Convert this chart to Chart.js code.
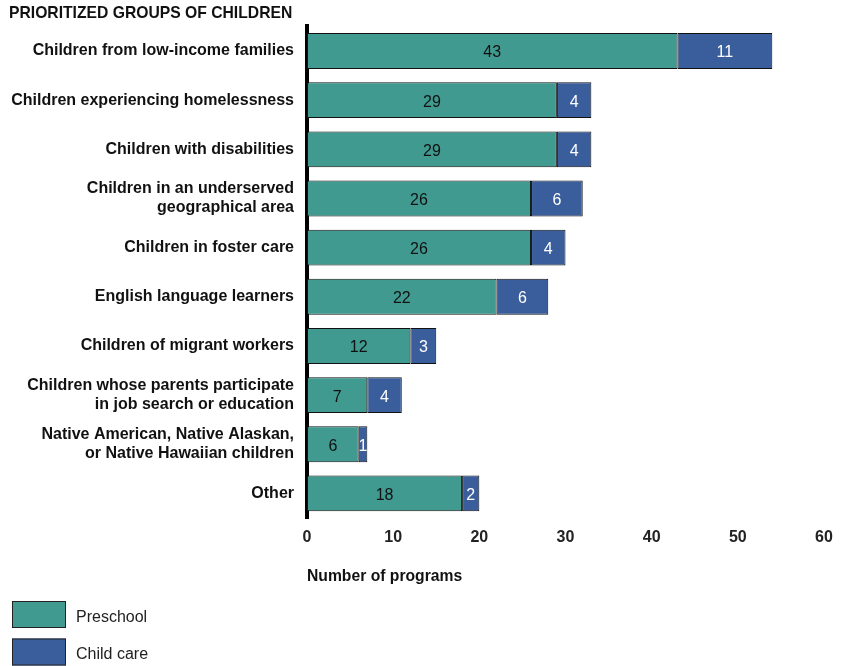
<!DOCTYPE html>
<html lang="en">
<head>
    <meta charset="UTF-8">
    <title>Prioritized groups of children</title>
    <style>
        html, body { margin: 0; padding: 0; background: #fff; }
        #wrap { width: 841px; height: 666px; position: relative; }
    </style>
</head>
<body>
    <div id="wrap"><canvas id="chart"></canvas></div>

    <script src="https://cdn.jsdelivr.net/npm/chart.js"></script>
    <script>
        // data
        const categories = [
            'Children from low-income families',
            'Children experiencing homelessness',
            'Children with disabilities',
            ['Children in an underserved', 'geographical area'],
            'Children in foster care',
            'English language learners',
            'Children of migrant workers',
            ['Children whose parents participate', 'in job search or education'],
            ['Native American, Native Alaskan,', 'or Native Hawaiian children'],
            'Other'
        ];
        const preschool = [43, 29, 29, 26, 26, 22, 12, 7, 6, 18];
        const childCare = [11, 4, 4, 6, 4, 6, 3, 4, 1, 2];
        const xTicks = [0, 10, 20, 30, 40, 50, 60];

        const TEAL = '#409a90';
        const BLUE = '#3a5e9b';
        const FONT = '"Liberation Sans", Arial, sans-serif';

        // numbers inside the bars
        const barLabels = {
            id: 'barLabels',
            afterDatasetsDraw(chart) {
                const ctx = chart.ctx;
                ctx.save();
                ctx.font = '16px ' + FONT;
                ctx.textAlign = 'center';
                ctx.textBaseline = 'middle';
                chart.data.datasets.forEach((ds, i) => {
                    chart.getDatasetMeta(i).data.forEach((bar, j) => {
                        const p = bar.getProps(['x', 'y', 'base'], true);
                        ctx.fillStyle = i === 0 ? '#111' : '#fff';
                        ctx.fillText(ds.data[j], (p.x + p.base) / 2, p.y + 2);
                    });
                });
                ctx.restore();
            }
        };

        // legend stacked at the bottom left
        const sideLegend = {
            id: 'sideLegend',
            afterDraw(chart) {
                const ctx = chart.ctx;
                ctx.save();
                ctx.font = '16px ' + FONT;
                ctx.textBaseline = 'middle';
                chart.data.datasets.forEach((ds, i) => {
                    const top = 601 + i * 37.5;
                    ctx.fillStyle = ds.backgroundColor;
                    ctx.fillRect(12, top, 54, 27);
                    ctx.strokeStyle = '#222';
                    ctx.lineWidth = 1;
                    ctx.strokeRect(12.5, top + 0.5, 53, 26);
                    ctx.fillStyle = '#222';
                    ctx.fillText(ds.label, 76, top + 16.5);
                });
                ctx.restore();
            }
        };

        const ctx = document.getElementById('chart').getContext('2d');
        new Chart(ctx, {
            type: 'bar',
            data: {
                labels: categories,
                datasets: [
                    { label: 'Preschool', data: preschool, backgroundColor: TEAL },
                    { label: 'Child care', data: childCare, backgroundColor: BLUE }
                ]
            },
            options: {
                indexAxis: 'y',
                responsive: true,
                maintainAspectRatio: false,
                animation: false,
                layout: { padding: { left: 9, right: 17, top: 0, bottom: 76 } },
                datasets: {
                    bar: {
                        borderColor: '#111',
                        borderWidth: 1,
                        borderSkipped: false,
                        categoryPercentage: 1,
                        barPercentage: 0.73
                    }
                },
                plugins: {
                    legend: { display: false },
                    tooltip: { enabled: false },
                    title: {
                        display: true,
                        text: 'PRIORITIZED GROUPS OF CHILDREN',
                        align: 'start',
                        color: '#111',
                        font: { family: FONT, size: 15.7, weight: 'bold' },
                        padding: { top: 4.6, bottom: 3 }
                    }
                },
                scales: {
                    x: {
                        stacked: true,
                        min: 0,
                        max: 60,
                        afterBuildTicks: s => { s.ticks = xTicks.map(v => ({ value: v })); },
                        afterFit: s => {
                            s.height = 72;
                            s.paddingLeft = 0;
                            s.paddingRight = 0;
                        },
                        grid: { display: false, drawTicks: false },
                        border: { display: false },
                        ticks: {
                            padding: 10,
                            color: '#222',
                            font: { family: FONT, size: 16, weight: 'bold' }
                        },
                        title: {
                            display: true,
                            text: 'Number of programs',
                            align: 'start',
                            color: '#111',
                            font: { family: FONT, size: 15.7, weight: 'bold' },
                            padding: { top: 4, bottom: 3.6 }
                        }
                    },
                    y: {
                        stacked: true,
                        afterFit: s => { s.width = 298; },
                        grid: { display: false, drawTicks: false },
                        border: { display: true, color: '#000', width: 4 },
                        ticks: {
                            padding: 13,
                            color: '#111',
                            font: { family: FONT, size: 16, weight: 'bold', lineHeight: 1.2 }
                        }
                    }
                }
            },
            plugins: [barLabels, sideLegend]
        });
    </script>
</body>
</html>
